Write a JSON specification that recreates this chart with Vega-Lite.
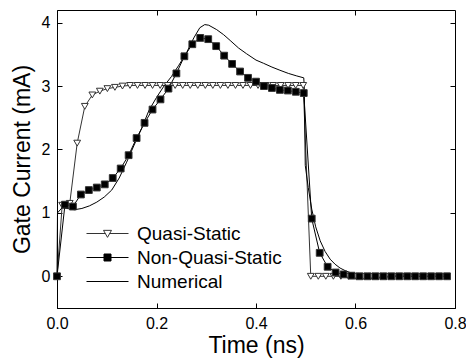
{
  "$schema": "https://vega.github.io/schema/vega-lite/v6.json",
  "width": 398,
  "height": 298,
  "autosize": "none",
  "padding": {"left": 57, "top": 10, "right": 11, "bottom": 50},
  "background": "white",
  "config": {
    "font": "Liberation Sans",
    "view": {"stroke": "black", "strokeWidth": 1},
    "axis": {
      "grid": false,
      "domainColor": "black",
      "tickColor": "black",
      "labelColor": "black",
      "titleColor": "black",
      "labelFont": "Liberation Sans",
      "titleFont": "Liberation Sans",
      "labelFontSize": 16,
      "titleFontSize": 23,
      "titleFontWeight": "normal",
      "tickSize": -5,
      "labelPadding": 12,
      "labelFlush": false
    }
  },
  "data": {
    "values": [
      {"series": "Quasi-Static", "t": 0, "I": 0},
      {"series": "Quasi-Static", "t": 0.0104, "I": 1.12},
      {"series": "Quasi-Static", "t": 0.0256, "I": 1.15},
      {"series": "Quasi-Static", "t": 0.0406, "I": 2.1},
      {"series": "Quasi-Static", "t": 0.0559, "I": 2.68},
      {"series": "Quasi-Static", "t": 0.071, "I": 2.86},
      {"series": "Quasi-Static", "t": 0.0861, "I": 2.92},
      {"series": "Quasi-Static", "t": 0.1013, "I": 2.96},
      {"series": "Quasi-Static", "t": 0.1164, "I": 2.98},
      {"series": "Quasi-Static", "t": 0.1316, "I": 3.0},
      {"series": "Quasi-Static", "t": 0.1467, "I": 3.01},
      {"series": "Quasi-Static", "t": 0.1618, "I": 3.01},
      {"series": "Quasi-Static", "t": 0.177, "I": 3.01},
      {"series": "Quasi-Static", "t": 0.1921, "I": 3.01},
      {"series": "Quasi-Static", "t": 0.2073, "I": 3.01},
      {"series": "Quasi-Static", "t": 0.2224, "I": 3.01},
      {"series": "Quasi-Static", "t": 0.2375, "I": 3.01},
      {"series": "Quasi-Static", "t": 0.2527, "I": 3.01},
      {"series": "Quasi-Static", "t": 0.2678, "I": 3.01},
      {"series": "Quasi-Static", "t": 0.283, "I": 3.01},
      {"series": "Quasi-Static", "t": 0.2981, "I": 3.01},
      {"series": "Quasi-Static", "t": 0.3132, "I": 3.01},
      {"series": "Quasi-Static", "t": 0.3284, "I": 3.01},
      {"series": "Quasi-Static", "t": 0.3435, "I": 3.01},
      {"series": "Quasi-Static", "t": 0.3587, "I": 3.01},
      {"series": "Quasi-Static", "t": 0.3738, "I": 3.01},
      {"series": "Quasi-Static", "t": 0.3889, "I": 3.01},
      {"series": "Quasi-Static", "t": 0.4041, "I": 3.01},
      {"series": "Quasi-Static", "t": 0.4192, "I": 3.01},
      {"series": "Quasi-Static", "t": 0.4344, "I": 3.01},
      {"series": "Quasi-Static", "t": 0.4495, "I": 3.01},
      {"series": "Quasi-Static", "t": 0.4646, "I": 3.01},
      {"series": "Quasi-Static", "t": 0.4798, "I": 3.01},
      {"series": "Quasi-Static", "t": 0.4949, "I": 3.01},
      {"series": "Quasi-Static", "t": 0.5101, "I": 0},
      {"series": "Quasi-Static", "t": 0.5252, "I": 0},
      {"series": "Quasi-Static", "t": 0.5403, "I": 0},
      {"series": "Quasi-Static", "t": 0.5555, "I": 0},
      {"series": "Quasi-Static", "t": 0.5706, "I": 0},
      {"series": "Quasi-Static", "t": 0.5858, "I": 0},
      {"series": "Quasi-Static", "t": 0.6009, "I": 0},
      {"series": "Quasi-Static", "t": 0.616, "I": 0},
      {"series": "Quasi-Static", "t": 0.6312, "I": 0},
      {"series": "Quasi-Static", "t": 0.6463, "I": 0},
      {"series": "Quasi-Static", "t": 0.6615, "I": 0},
      {"series": "Quasi-Static", "t": 0.6766, "I": 0},
      {"series": "Quasi-Static", "t": 0.6917, "I": 0},
      {"series": "Quasi-Static", "t": 0.7069, "I": 0},
      {"series": "Quasi-Static", "t": 0.722, "I": 0},
      {"series": "Quasi-Static", "t": 0.7372, "I": 0},
      {"series": "Quasi-Static", "t": 0.7523, "I": 0},
      {"series": "Quasi-Static", "t": 0.7674, "I": 0},
      {"series": "Quasi-Static", "t": 0.7826, "I": 0},
      {"series": "Non-Quasi-Static", "t": 0, "I": 0},
      {"series": "Non-Quasi-Static", "t": 0.016, "I": 1.13},
      {"series": "Non-Quasi-Static", "t": 0.032, "I": 1.1},
      {"series": "Non-Quasi-Static", "t": 0.048, "I": 1.29},
      {"series": "Non-Quasi-Static", "t": 0.064, "I": 1.36},
      {"series": "Non-Quasi-Static", "t": 0.08, "I": 1.4},
      {"series": "Non-Quasi-Static", "t": 0.096, "I": 1.45},
      {"series": "Non-Quasi-Static", "t": 0.112, "I": 1.55},
      {"series": "Non-Quasi-Static", "t": 0.128, "I": 1.7},
      {"series": "Non-Quasi-Static", "t": 0.144, "I": 1.91},
      {"series": "Non-Quasi-Static", "t": 0.16, "I": 2.18},
      {"series": "Non-Quasi-Static", "t": 0.176, "I": 2.42},
      {"series": "Non-Quasi-Static", "t": 0.192, "I": 2.63},
      {"series": "Non-Quasi-Static", "t": 0.208, "I": 2.79},
      {"series": "Non-Quasi-Static", "t": 0.224, "I": 2.96},
      {"series": "Non-Quasi-Static", "t": 0.24, "I": 3.2},
      {"series": "Non-Quasi-Static", "t": 0.256, "I": 3.47},
      {"series": "Non-Quasi-Static", "t": 0.272, "I": 3.66},
      {"series": "Non-Quasi-Static", "t": 0.288, "I": 3.76},
      {"series": "Non-Quasi-Static", "t": 0.304, "I": 3.74},
      {"series": "Non-Quasi-Static", "t": 0.32, "I": 3.63},
      {"series": "Non-Quasi-Static", "t": 0.336, "I": 3.48},
      {"series": "Non-Quasi-Static", "t": 0.352, "I": 3.35},
      {"series": "Non-Quasi-Static", "t": 0.368, "I": 3.23},
      {"series": "Non-Quasi-Static", "t": 0.384, "I": 3.13},
      {"series": "Non-Quasi-Static", "t": 0.4, "I": 3.07},
      {"series": "Non-Quasi-Static", "t": 0.416, "I": 3.0},
      {"series": "Non-Quasi-Static", "t": 0.432, "I": 2.97},
      {"series": "Non-Quasi-Static", "t": 0.448, "I": 2.94},
      {"series": "Non-Quasi-Static", "t": 0.464, "I": 2.93},
      {"series": "Non-Quasi-Static", "t": 0.48, "I": 2.91},
      {"series": "Non-Quasi-Static", "t": 0.496, "I": 2.89},
      {"series": "Non-Quasi-Static", "t": 0.512, "I": 0.91},
      {"series": "Non-Quasi-Static", "t": 0.528, "I": 0.37},
      {"series": "Non-Quasi-Static", "t": 0.544, "I": 0.15},
      {"series": "Non-Quasi-Static", "t": 0.56, "I": 0.06},
      {"series": "Non-Quasi-Static", "t": 0.576, "I": 0.03},
      {"series": "Non-Quasi-Static", "t": 0.592, "I": 0.01},
      {"series": "Non-Quasi-Static", "t": 0.608, "I": 0},
      {"series": "Non-Quasi-Static", "t": 0.624, "I": 0},
      {"series": "Non-Quasi-Static", "t": 0.64, "I": 0},
      {"series": "Non-Quasi-Static", "t": 0.656, "I": 0},
      {"series": "Non-Quasi-Static", "t": 0.672, "I": 0},
      {"series": "Non-Quasi-Static", "t": 0.688, "I": 0},
      {"series": "Non-Quasi-Static", "t": 0.704, "I": 0},
      {"series": "Non-Quasi-Static", "t": 0.72, "I": 0},
      {"series": "Non-Quasi-Static", "t": 0.736, "I": 0},
      {"series": "Non-Quasi-Static", "t": 0.752, "I": 0},
      {"series": "Non-Quasi-Static", "t": 0.768, "I": 0},
      {"series": "Non-Quasi-Static", "t": 0.784, "I": 0},
      {"series": "Numerical", "t": 0, "I": 0},
      {"series": "Numerical", "t": 0.001, "I": 1.0},
      {"series": "Numerical", "t": 0.01, "I": 1.08},
      {"series": "Numerical", "t": 0.02, "I": 1.07},
      {"series": "Numerical", "t": 0.035, "I": 1.05},
      {"series": "Numerical", "t": 0.05, "I": 1.07},
      {"series": "Numerical", "t": 0.065, "I": 1.11},
      {"series": "Numerical", "t": 0.08, "I": 1.17},
      {"series": "Numerical", "t": 0.095, "I": 1.25},
      {"series": "Numerical", "t": 0.11, "I": 1.36},
      {"series": "Numerical", "t": 0.125, "I": 1.55},
      {"series": "Numerical", "t": 0.14, "I": 1.8},
      {"series": "Numerical", "t": 0.155, "I": 2.07},
      {"series": "Numerical", "t": 0.17, "I": 2.33},
      {"series": "Numerical", "t": 0.185, "I": 2.62},
      {"series": "Numerical", "t": 0.2, "I": 2.82},
      {"series": "Numerical", "t": 0.215, "I": 3.0},
      {"series": "Numerical", "t": 0.23, "I": 3.15},
      {"series": "Numerical", "t": 0.245, "I": 3.33},
      {"series": "Numerical", "t": 0.26, "I": 3.52},
      {"series": "Numerical", "t": 0.275, "I": 3.76},
      {"series": "Numerical", "t": 0.287, "I": 3.92},
      {"series": "Numerical", "t": 0.297, "I": 3.97},
      {"series": "Numerical", "t": 0.305, "I": 3.96},
      {"series": "Numerical", "t": 0.321, "I": 3.89},
      {"series": "Numerical", "t": 0.335, "I": 3.81},
      {"series": "Numerical", "t": 0.348, "I": 3.72},
      {"series": "Numerical", "t": 0.365, "I": 3.6},
      {"series": "Numerical", "t": 0.381, "I": 3.51},
      {"series": "Numerical", "t": 0.4, "I": 3.41},
      {"series": "Numerical", "t": 0.415, "I": 3.36},
      {"series": "Numerical", "t": 0.432, "I": 3.3},
      {"series": "Numerical", "t": 0.448, "I": 3.25},
      {"series": "Numerical", "t": 0.465, "I": 3.2},
      {"series": "Numerical", "t": 0.482, "I": 3.16},
      {"series": "Numerical", "t": 0.496, "I": 3.13},
      {"series": "Numerical", "t": 0.497, "I": 3.0},
      {"series": "Numerical", "t": 0.499, "I": 1.75},
      {"series": "Numerical", "t": 0.505, "I": 1.4},
      {"series": "Numerical", "t": 0.512, "I": 1.06},
      {"series": "Numerical", "t": 0.52, "I": 0.78},
      {"series": "Numerical", "t": 0.529, "I": 0.56},
      {"series": "Numerical", "t": 0.539, "I": 0.39},
      {"series": "Numerical", "t": 0.549, "I": 0.27},
      {"series": "Numerical", "t": 0.559, "I": 0.19},
      {"series": "Numerical", "t": 0.569, "I": 0.13},
      {"series": "Numerical", "t": 0.579, "I": 0.09},
      {"series": "Numerical", "t": 0.589, "I": 0.06},
      {"series": "Numerical", "t": 0.6, "I": 0.04},
      {"series": "Numerical", "t": 0.62, "I": 0.015},
      {"series": "Numerical", "t": 0.65, "I": 0},
      {"series": "Numerical", "t": 0.785, "I": 0}
    ]
  },
  "layer": [
    {
      "mark": {"type": "line", "strokeWidth": 1},
      "encoding": {
        "x": {
          "field": "t", "type": "quantitative",
          "scale": {"domain": [0, 0.8], "nice": false, "zero": false},
          "axis": {"orient": "bottom", "values": [0, 0.2, 0.4, 0.6, 0.8], "format": ".1f", "title": "Time (ns)", "titlePadding": 3}
        },
        "y": {
          "field": "I", "type": "quantitative",
          "scale": {"domain": [-0.5, 4.2], "nice": false, "zero": false},
          "axis": {"orient": "left", "values": [0, 1, 2, 3, 4], "format": "d", "title": "Gate Current (mA)", "titlePadding": 7}
        },
        "color": {
          "field": "series", "type": "nominal",
          "scale": {"domain": ["Quasi-Static", "Non-Quasi-Static", "Numerical"], "range": ["#333333", "black", "black"]},
          "legend": {
            "orient": "none",
            "legendX": 41,
            "legendY": 214,
            "title": null,
            "labelFont": "Liberation Sans",
            "labelFontSize": 19,
            "labelColor": "black",
            "symbolSize": 196,
            "labelOffset": 20,
            "rowPadding": 4,
            "encode": {
              "symbols": {
                "update": {
                  "shape": {"signal": "datum.value === 'Quasi-Static' ? 'M -3 0 H -0.3 M 0.3 0 H 3 M -0.57 -0.45 L 0.57 -0.45 L 0 0.55 Z' : datum.value === 'Non-Quasi-Static' ? 'M -3 0 H 3 M -0.5 -0.5 H 0.5 V 0.5 H -0.5 Z' : 'M -3 0 H 3'"},
                  "fill": {"signal": "datum.value === 'Quasi-Static' ? 'white' : datum.value === 'Numerical' ? 'transparent' : 'black'"},
                  "stroke": {"signal": "datum.value === 'Quasi-Static' ? '#333333' : 'black'"},
                  "strokeWidth": {"value": 1},
                  "opacity": {"value": 1}
                }
              }
            }
          }
        }
      }
    },
    {
      "transform": [{"filter": "datum.series !== 'Numerical'"}],
      "mark": {"type": "point", "filled": true, "stroke": "#333333", "strokeWidth": 1, "size": 46, "opacity": 1},
      "encoding": {
        "x": {
          "field": "t", "type": "quantitative",
          "axis": {"orient": "top", "values": [0.2, 0.4, 0.6], "labels": false, "title": null, "domain": false}
        },
        "y": {
          "field": "I", "type": "quantitative",
          "axis": {"orient": "right", "values": [1, 2, 3, 4], "labels": false, "title": null, "domain": false}
        },
        "shape": {
          "field": "series", "type": "nominal",
          "scale": {"domain": ["Quasi-Static", "Non-Quasi-Static"], "range": ["triangle-down", "square"]},
          "legend": null
        },
        "fill": {
          "field": "series", "type": "nominal",
          "scale": {"domain": ["Quasi-Static", "Non-Quasi-Static"], "range": ["white", "black"]},
          "legend": null
        }
      }
    }
  ]
}
